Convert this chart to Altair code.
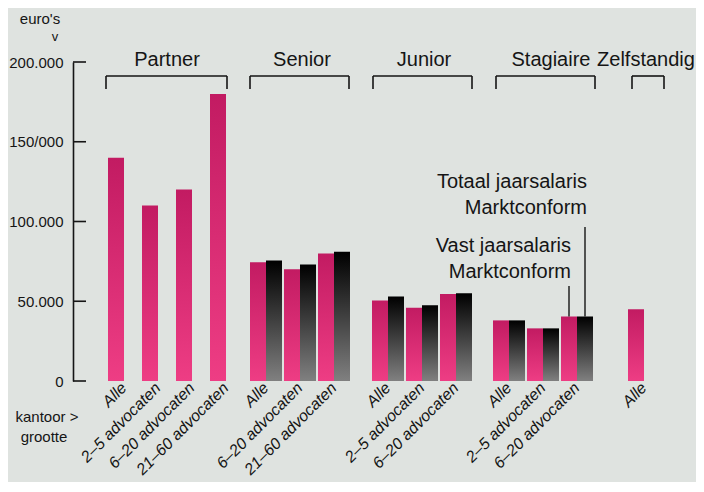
import altair as alt
import pandas as pd

FONT = "Liberation Sans, Arial, sans-serif"
INK = "#151515"
BG = "#DFE3E0"

# ---------------- data ----------------
series = ["Vast", "Totaal"]

partner_cats = ["Alle", "2–5 advocaten", "6–20 advocaten", "21–60 advocaten"]
partner_vast = [140000, 110000, 120000, 180000]

senior_cats = ["Alle", "6–20 advocaten", "21–60 advocaten"]
senior_vast = [74500, 70000, 80000]
senior_totaal = [75500, 73000, 81000]

junior_cats = ["Alle", "2–5 advocaten", "6–20 advocaten"]
junior_vast = [50500, 46000, 54500]
junior_totaal = [53000, 47500, 55000]

stagiaire_cats = ["Alle", "2–5 advocaten", "6–20 advocaten"]
stagiaire_vast = [38000, 33000, 40500]
stagiaire_totaal = [38000, 33000, 40500]

zelf_cats = ["Alle"]
zelf_vast = [45000]

y_tick_values = [0, 50000, 100000, 150000, 200000]
y_tick_labels = ["0", "50.000", "100.000", "150/000", "200.000"]

annotation_cat = "6–20 advocaten"
annotation_series = ["Totaal", "Vast"]
annotation_texts = ["Totaal jaarsalaris\nMarktconform", "Vast jaarsalaris\nMarktconform"]

side_texts = ["euro's", "v", "kantoor >", "grootte"]

# ---------------- layout (pixels) ----------------
H = 319
pink_grad = alt.Gradient(gradient="linear",
                         stops=[alt.GradientStop(color="#C21B62", offset=0),
                                alt.GradientStop(color="#EE3D84", offset=1)],
                         x1=0, x2=0, y1=0, y2=1)
black_grad = alt.Gradient(gradient="linear",
                          stops=[alt.GradientStop(color="#000000", offset=0),
                                 alt.GradientStop(color="#808080", offset=1)],
                          x1=0, x2=0, y1=0, y2=1)

label_expr = " : ".join(
    f"datum.value == {v} ? '{l}'" for v, l in zip(y_tick_values, y_tick_labels)
) + " : ''"

yscale = alt.Scale(domain=[0, 200000], nice=False, zero=True)


def dummy():
    return pd.DataFrame({"d": [0]})


def panel(name, cats, vast, totaal, width, rng, bracket, title_x, first=False, annotate=False):
    rows = [{"cat": c, "serie": "Vast", "value": v} for c, v in zip(cats, vast)]
    if totaal:
        rows += [{"cat": c, "serie": "Totaal", "value": v} for c, v in zip(cats, totaal)]
    df = pd.DataFrame(rows)

    xenc = alt.X("cat:N", sort=cats,
                 scale=alt.Scale(domain=cats, range=rng, paddingInner=2 / 34, paddingOuter=1 / 34),
                 axis=alt.Axis(title=None, labelAngle=-45, labelAlign="right", labelBaseline="middle",
                               domain=False, ticks=False, tickSize=0, labelPadding=4,
                               labelFont=FONT, labelFontSize=16, labelFontStyle="italic",
                               labelColor=INK, labelOverlap=False, labelLimit=0))
    xoff = alt.XOffset("serie:N", scale=alt.Scale(domain=series, paddingInner=0, paddingOuter=0))
    if first:
        yaxis = alt.Axis(values=y_tick_values, labelExpr=label_expr, title=None, grid=False,
                         domain=True, domainColor=INK, domainWidth=1.6, ticks=False, tickSize=0,
                         labelPadding=10, labelFont=FONT, labelFontSize=15, labelColor=INK)
    else:
        yaxis = None
    yenc = alt.Y("value:Q", scale=yscale, axis=yaxis)

    layers = []
    layers.append(alt.Chart(df).transform_filter(alt.datum.serie == "Vast")
                  .mark_bar(color=pink_grad).encode(x=xenc, xOffset=xoff, y=yenc))
    if totaal:
        layers.append(alt.Chart(df).transform_filter(alt.datum.serie == "Totaal")
                      .mark_bar(color=black_grad).encode(x=xenc, xOffset=xoff, y=yenc))

    # group header and bracket
    layers.append(alt.Chart(pd.DataFrame({"t": [name]})).mark_text(
        font=FONT, fontSize=20, color=INK, align="center", baseline="alphabetic")
        .encode(text="t:N", x=alt.value(title_x), y=alt.value(4)))
    b0, b1 = bracket
    rule = alt.Chart(dummy()).mark_rule(color=INK, strokeWidth=1.6)
    layers.append(rule.encode(x=alt.value(b0), x2=alt.value(b1), y=alt.value(14)))
    layers.append(rule.encode(x=alt.value(b0), y=alt.value(14), y2=alt.value(27)))
    layers.append(rule.encode(x=alt.value(b1), y=alt.value(14), y2=alt.value(27)))

    if first:
        ticks = pd.DataFrame({"v": y_tick_values})
        layers.append(alt.Chart(ticks).mark_rule(color=INK, strokeWidth=1.6).encode(
            x=alt.value(0), x2=alt.value(13), y=alt.Y("v:Q", scale=yscale, axis=yaxis)))
        side_px = [-33, -18, -26, -29]
        side_py = [-38, -21, 360, 380]
        side_fs = [15, 13, 15, 15]
        for t, px, py, fs in zip(side_texts, side_px, side_py, side_fs):
            layers.append(alt.Chart(pd.DataFrame({"t": [t]})).mark_text(
                font=FONT, fontSize=fs, color=INK, align="center", baseline="alphabetic")
                .encode(text="t:N", x=alt.value(px), y=alt.value(py)))

    if annotate:
        adf = pd.DataFrame({"cat": [annotation_cat] * 2, "serie": annotation_series,
                            "label": annotation_texts})
        top = {"Totaal": 165, "Vast": 224}
        texty = {"Totaal": 126, "Vast": 189.7}
        for s in annotation_series:
            sub = adf[adf.serie == s]
            layers.append(alt.Chart(sub).mark_text(
                font=FONT, fontSize=20, color=INK, align="right", baseline="alphabetic",
                lineBreak="\n", lineHeight=26, dx=2)
                .encode(text="label:N", x=xenc, xOffset=xoff, y=alt.value(texty[s])))
        lead = df[(df.cat == annotation_cat)]
        for s in annotation_series:
            layers.append(alt.Chart(lead[lead.serie == s]).mark_rule(color=INK, strokeWidth=1.4)
                          .encode(x=xenc, xOffset=xoff, y=yenc, y2=alt.value(top[s])))

    return alt.layer(*layers).properties(width=width, height=H)


p1 = panel("Partner", partner_cats, partner_vast, None, 176, [34, 170], (33, 154), 94, first=True)
p2 = panel("Senior", senior_cats, senior_vast, senior_totaal, 122, [0, 102], (1, 100), 53)
p3 = panel("Junior", junior_cats, junior_vast, junior_totaal, 121, [0, 102], (2, 101), 53)
p4 = panel("Stagiaire", stagiaire_cats, stagiaire_vast, stagiaire_totaal, 135, [0, 102], (4, 103), 59,
           annotate=True)
p5 = panel("Zelfstandig", zelf_cats, zelf_vast, None, 40, [0, 34], (5, 37), 19)

chart = alt.hconcat(p1, p2, p3, p4, p5, spacing=0, bounds="flush").properties(
    background=BG, padding={"left": 0, "top": 4, "right": 1, "bottom": 4}
).configure_view(stroke=None).resolve_scale(x="independent")

chart.save("out.html", embed_options={"renderer": "svg", "actions": False})
